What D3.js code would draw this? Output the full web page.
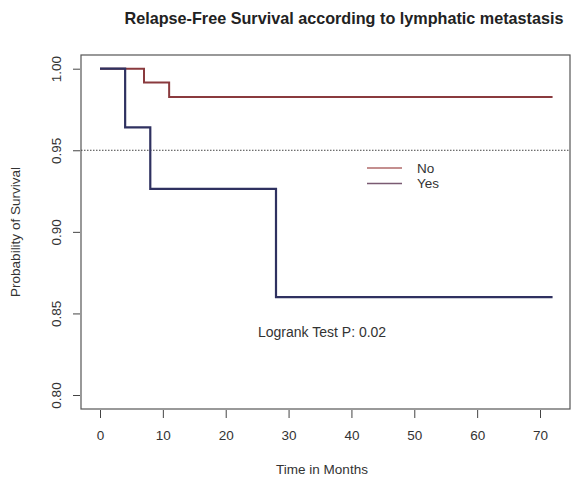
<!DOCTYPE html>
<html><head><meta charset="utf-8">
<script src="https://cdn.jsdelivr.net/npm/d3@7"></script>
<style>body{margin:0;background:#fff}svg{display:block}text{font-family:"Liberation Sans",Arial,sans-serif}</style>
</head><body>
<script>
// Data
const noTimes = [0, 7, 11, 72];
const noSurv = [1.0, 0.9915, 0.9826, 0.9826];
const yesTimes = [0, 4, 8, 28, 72];
const yesSurv = [1.0, 0.9640, 0.9263, 0.8600, 0.8600];
const xTicks = [0, 10, 20, 30, 40, 50, 60, 70];
const yTicks = [0.80, 0.85, 0.90, 0.95, 1.00];
const legendLabels = ["No", "Yes"];
const refLine = 0.95;

const W = 573, H = 483;
const box = {l: 81, r: 570, t: 55, b: 409};
const svg = d3.select("body").append("svg").attr("width", W).attr("height", H);

const x = d3.scaleLinear().domain([0, 70]).range([100, 540]);
const y = d3.scaleLinear().domain([0.8, 1.0]).range([395, 68.7]);

// frame
svg.append("rect").attr("x", box.l).attr("y", box.t).attr("width", box.r - box.l).attr("height", box.b - box.t)
  .attr("fill", "none").attr("stroke", "#555").attr("stroke-width", 1.2);

// x axis
const xa = svg.append("g").attr("transform", `translate(0,${box.b + 1})`)
  .call(d3.axisBottom(x).tickValues(xTicks).tickSize(8).tickPadding(12).tickFormat(d3.format("d")));
xa.select(".domain").remove();
xa.selectAll("line").attr("stroke", "#444");
xa.selectAll("text").attr("font-size", 13.5).attr("fill", "#333");

// y axis
const ya = svg.append("g").attr("transform", `translate(${box.l - 1},0)`)
  .call(d3.axisLeft(y).tickValues(yTicks).tickSize(7).tickFormat(d3.format(".2f")));
ya.select(".domain").remove();
ya.selectAll("line").attr("stroke", "#444");
ya.selectAll("text").attr("font-size", 13.5).attr("fill", "#333")
  .attr("text-anchor", "middle").attr("x", 0).attr("dy", "0.35em")
  .attr("transform", "translate(-24,0) rotate(-90)");

// reference dotted line
svg.append("line").attr("x1", box.l).attr("x2", box.r).attr("y1", y(refLine)).attr("y2", y(refLine))
  .attr("stroke", "#444").attr("stroke-width", 1).attr("stroke-dasharray", "1.5,1.5");

// curves
const line = d3.line().x(d => x(d[0])).y(d => y(d[1])).curve(d3.curveStepAfter);
const noData = noTimes.map((t, i) => [t, noSurv[i]]);
const yesData = yesTimes.map((t, i) => [t, yesSurv[i]]);
svg.append("path").attr("d", line(noData)).attr("fill", "none").attr("stroke", "#8a3a3e").attr("stroke-width", 2);
svg.append("path").attr("d", line(yesData)).attr("fill", "none").attr("stroke", "#2f3160").attr("stroke-width", 2.2);

// legend
const legCols = ["#b06a6a", "#7a5a72"];
legendLabels.forEach((lab, i) => {
  const ly = 168 + i * 15.5;
  svg.append("line").attr("x1", 367).attr("x2", 402).attr("y1", ly).attr("y2", ly)
    .attr("stroke", legCols[i]).attr("stroke-width", 1.6);
  svg.append("text").attr("x", 417).attr("y", ly + 4.5).attr("font-size", 13.5).attr("fill", "#333").text(lab);
});

// annotation
svg.append("text").attr("x", 258).attr("y", 337).attr("font-size", 14).attr("fill", "#333").text("Logrank Test P: 0.02");

// titles
svg.append("text").attr("x", 344).attr("y", 24).attr("text-anchor", "middle").attr("font-size", 16.2)
  .attr("font-weight", "bold").attr("fill", "#222").text("Relapse-Free Survival according to lymphatic metastasis");
svg.append("text").attr("x", 322).attr("y", 474).attr("text-anchor", "middle").attr("font-size", 13.5)
  .attr("fill", "#333").text("Time in Months");
svg.append("text").attr("transform", "translate(20,232) rotate(-90)").attr("text-anchor", "middle")
  .attr("font-size", 13.5).attr("fill", "#333").text("Probability of Survival");
</script>
</body></html>
